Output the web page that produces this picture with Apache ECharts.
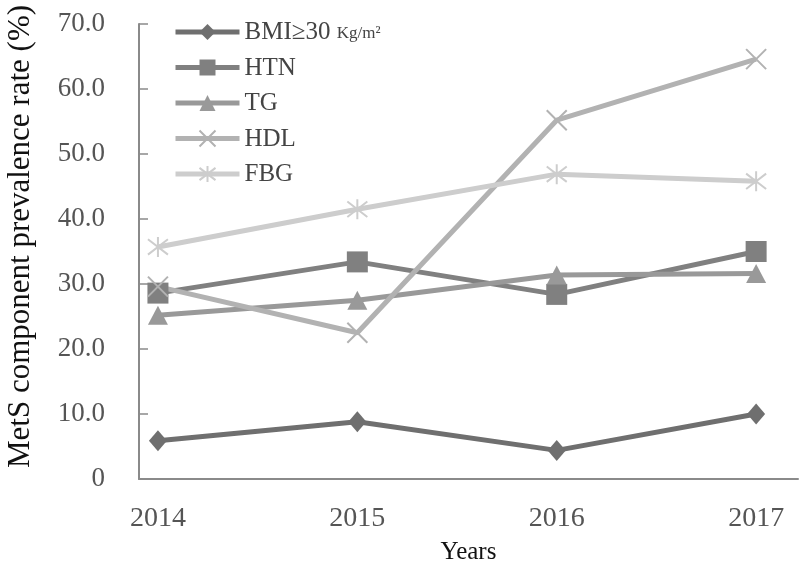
<!DOCTYPE html>
<html>
<head>
<meta charset="utf-8">
<script src="https://cdn.jsdelivr.net/npm/echarts@6/dist/echarts.min.js"></script>
<style>html,body{margin:0;padding:0;background:#fff}#c{width:800px;height:565px}</style>
</head>
<body>
<div id="c"></div>
<script>
const years = [2014, 2015, 2016, 2017];
const seriesNames = ['BMI≥30 Kg/m²', 'HTN', 'TG', 'HDL', 'FBG'];
const bmi = [5.9, 8.8, 4.4, 10.0];
const htn = [28.6, 33.4, 28.4, 35.0];
const tg  = [25.2, 27.5, 31.4, 31.6];
const hdl = [29.6, 22.5, 55.2, 64.6];
const fbg = [35.7, 41.5, 46.9, 45.8];
const yTicks = [0, 10, 20, 30, 40, 50, 60, 70];

const colors = ['#6f6f6f', '#808080', '#999999', '#b2b2b2', '#cdcdcd'];
const symbols = [
  'diamond',
  'rect',
  'triangle',
  'path://M0,0 L10,10 M10,0 L0,10',
  'path://M0,0 L10,10 M10,0 L0,10 M5,-1.5 L5,11.5'
];
const symbolSizes = [[18, 21], 21, [20, 19], 20, 20];
const values = [bmi, htn, tg, hdl, fbg];
const serif = '"Liberation Serif", "DejaVu Serif", serif';

const series = values.map((vals, i) => ({
  name: seriesNames[i],
  type: 'line',
  data: years.map((y, k) => [y, vals[k]]),
  symbol: symbols[i],
  symbolSize: symbolSizes[i],
  symbolKeepAspect: false,
  lineStyle: { color: colors[i], width: 5 },
  itemStyle: i >= 3
    ? { color: colors[i], borderColor: colors[i], borderWidth: 2 }
    : { color: colors[i] },
  emphasis: { disabled: true },
  animation: false
}));

const chart = echarts.init(document.getElementById('c'), null, { renderer: 'canvas' });
chart.setOption({
  backgroundColor: '#ffffff',
  animation: false,
  grid: { left: 139, right: 2, top: 24, bottom: 86, containLabel: false, outerBoundsMode: 'none' },
  legend: {
    orient: 'vertical',
    left: 168,
    top: 15,
    itemWidth: 64,
    itemHeight: 20,
    itemGap: 10.5,
    lineStyle: { width: 5 },
    data: seriesNames,
    textStyle: {
      fontFamily: serif, fontSize: 25, color: '#444',
      rich: {
        a: { fontFamily: serif, fontSize: 25, color: '#444', lineHeight: 26, verticalAlign: 'bottom' },
        b: { fontFamily: serif, fontSize: 17, color: '#444', lineHeight: 22, verticalAlign: 'bottom', padding: [0, 0, 3, 0] }
      }
    },
    formatter: function (name) {
      if (name === seriesNames[0]) {
        return '{a|BMI≥30 }{b|Kg/m²}';
      }
      return '{a|' + name + '}';
    }
  },
  xAxis: {
    type: 'value',
    min: 2013.905,
    max: 2017.21,
    name: 'Years',
    nameLocation: 'middle',
    nameGap: 61,
    nameTextStyle: { fontFamily: serif, fontSize: 25, color: '#111' },
    axisLine: { show: true, lineStyle: { color: '#8a8a8a', width: 2 } },
    axisTick: { show: false },
    splitLine: { show: false },
    axisLabel: {
      customValues: years,
      formatter: v => String(v),
      fontFamily: serif, fontSize: 28, color: '#555', margin: 26
    }
  },
  yAxis: {
    type: 'value',
    min: yTicks[0],
    max: yTicks[yTicks.length - 1],
    interval: 10,
    name: 'MetS component prevalence rate (%)',
    nameLocation: 'middle',
    nameRotate: 90,
    nameGap: 103,
    nameTextStyle: { fontFamily: serif, fontSize: 31, color: '#111', padding: [0, 0, 0, 30] },
    axisLine: { show: true, lineStyle: { color: '#8a8a8a', width: 2 } },
    axisTick: { show: true, inside: true, length: 9, lineStyle: { color: '#8a8a8a', width: 1.5 } },
    splitLine: { show: false },
    axisLabel: {
      formatter: v => (v === 0 ? '0' : v.toFixed(1)),
      fontFamily: serif, fontSize: 27, color: '#555', margin: 34
    }
  },
  series: series
});
</script>
</body>
</html>
